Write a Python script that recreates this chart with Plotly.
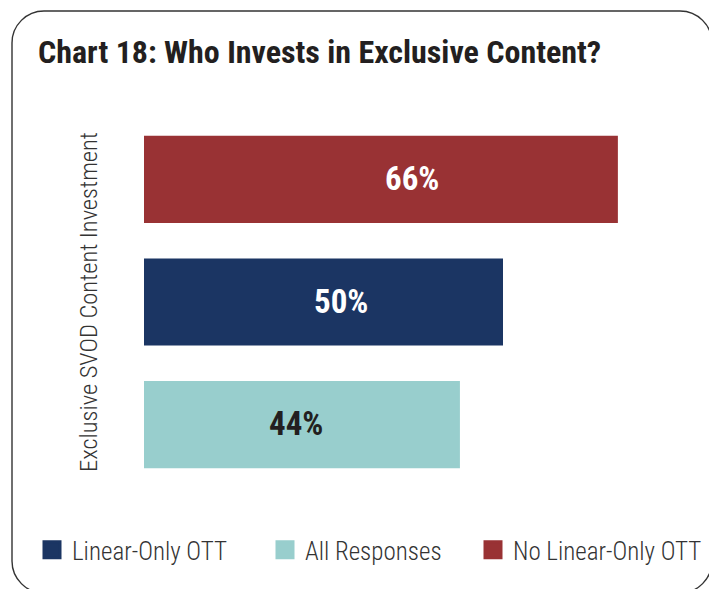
import plotly.graph_objects as go

# Survey result: share of respondents investing in exclusive SVOD content
series_names = ["Linear-Only OTT", "All Responses", "No Linear-Only OTT"]
series_values = [50, 44, 66]
series_colors = ["#1b3563", "#98cecd", "#993234"]
label_colors = ["#ffffff", "#231f20", "#ffffff"]
label_shift_px = [17, -6, 31]
legend_left_px = [32, 265, 473]

# bottom-to-top order of the bars
category_order = ["All Responses", "Linear-Only OTT", "No Linear-Only OTT"]

title_text = "Chart 18: Who Invests in Exclusive Content?"
axis_title = "Exclusive SVOD Content Investment"

W, H = 709, 589
M_L, M_R, M_T, M_B = 144, 19, 118, 103
PX_PER_PCT = 7.18
x_max = (W - M_L - M_R) / PX_PER_PCT

COND = "Roboto Condensed, Liberation Sans Narrow, Arial Narrow, Liberation Sans, sans-serif"

pw, ph = W - M_L - M_R, H - M_T - M_B
def px(x):
    return (x - M_L) / pw
def py(y):
    return (H - M_B - y) / ph

fig = go.Figure()
for name, val, col in zip(series_names, series_values, series_colors):
    fig.add_trace(go.Bar(
        x=[val], y=[name], orientation="h", name=name,
        marker=dict(color=col, line=dict(width=0)),
        hoverinfo="skip", showlegend=False,
    ))

# legend keys: one square swatch per series, each in its own legend box
legend_ids = ["legend", "legend2", "legend3"]
for name, col, lid in zip(series_names, series_colors, legend_ids):
    fig.add_trace(go.Scatter(
        x=[None], y=[None], mode="markers", name=name, legend=lid,
        marker=dict(symbol="square", size=16, color=col,
                    line=dict(color=col, width=3)),
        showlegend=True, hoverinfo="skip",
    ))

# value labels inside the bars
for name, val, tc, dx in zip(series_names, series_values, label_colors, label_shift_px):
    fig.add_annotation(
        x=val / 2, y=name, xref="x", yref="y", text=f"<b>{val}%</b>",
        showarrow=False, xshift=dx, yshift=1,
        font=dict(family=COND, size=33, color=tc),
    )

# rounded frame around the whole graphic
x0, y0, x1, y1, r = 12, 11, 712, 593, 32
k = 0.5523 * r
path = (
    f"M {px(x0 + r)},{py(y0)} L {px(x1 - r)},{py(y0)} "
    f"C {px(x1 - r + k)},{py(y0)} {px(x1)},{py(y0 + r - k)} {px(x1)},{py(y0 + r)} "
    f"L {px(x1)},{py(y1 - r)} "
    f"C {px(x1)},{py(y1 - r + k)} {px(x1 - r + k)},{py(y1)} {px(x1 - r)},{py(y1)} "
    f"L {px(x0 + r)},{py(y1)} "
    f"C {px(x0 + r - k)},{py(y1)} {px(x0)},{py(y1 - r + k)} {px(x0)},{py(y1 - r)} "
    f"L {px(x0)},{py(y0 + r)} "
    f"C {px(x0)},{py(y0 + r - k)} {px(x0 + r - k)},{py(y0)} {px(x0 + r)},{py(y0)} Z"
)
fig.add_shape(type="path", path=path, xref="paper", yref="paper",
              line=dict(color="#333333", width=1.4), layer="above")

legend_font = dict(family=COND, size=25, color="#333333", weight=300)
legend_layouts = {
    lid: dict(
        orientation="h", x=px(lx), xanchor="left", y=py(550), yanchor="middle",
        font=legend_font, bgcolor="rgba(0,0,0,0)", itemsizing="trace",
    )
    for lid, lx in zip(legend_ids, legend_left_px)
}

fig.update_layout(
    width=W, height=H,
    margin=dict(l=M_L, r=M_R, t=M_T, b=M_B, autoexpand=False),
    paper_bgcolor="white", plot_bgcolor="white",
    barmode="relative", bargap=0.29,
    title=dict(
        text=f"<b>{title_text}</b>", x=38 / W, xanchor="left",
        y=1 - 52 / H, yanchor="middle",
        font=dict(family=COND, size=32, color="#231f20"),
    ),
    xaxis=dict(range=[0, x_max], visible=False, fixedrange=True),
    yaxis=dict(
        categoryorder="array", categoryarray=category_order,
        range=[-0.5, 2.5], showticklabels=False, showgrid=False,
        zeroline=False, showline=False, ticks="", fixedrange=True,
        title=dict(text=axis_title, standoff=38,
                   font=dict(family=COND, size=24.5, color="#333333", weight=300)),
    ),
    showlegend=True,
    **legend_layouts,
)

fig.write_html("out.html")
